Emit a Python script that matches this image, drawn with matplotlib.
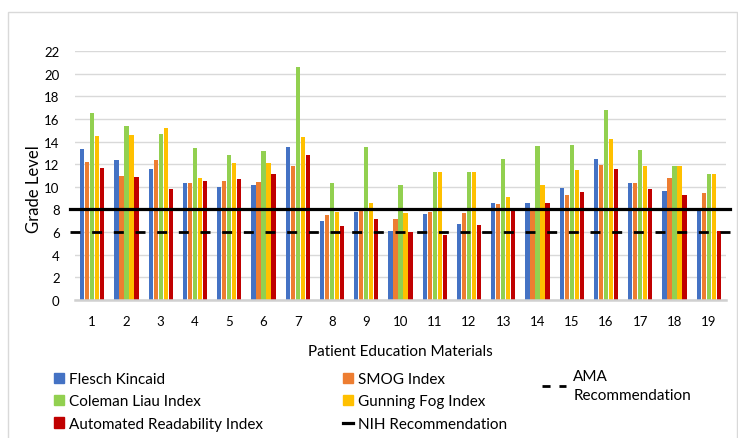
import matplotlib
matplotlib.use("Agg")
import matplotlib.pyplot as plt
import numpy as np
from matplotlib.patches import Patch, Rectangle
from matplotlib.lines import Line2D

plt.rcParams['font.family'] = ['Lato', 'DejaVu Sans']

materials = [str(i) for i in range(1, 20)]
flesch_kincaid = [13.3, 12.4, 11.6, 10.3, 10.0, 10.2, 13.5, 7.0, 7.8, 6.1, 7.6, 6.7, 8.6, 8.6, 9.9, 12.5, 10.3, 9.6, 8.0]
smog_index = [12.2, 11.0, 12.4, 10.3, 10.5, 10.4, 11.8, 7.5, 7.95, 7.2, 7.8, 7.7, 8.5, 7.9, 9.3, 11.9, 10.3, 10.8, 9.45]
coleman_liau = [16.5, 15.35, 14.7, 13.4, 12.8, 13.2, 20.6, 10.35, 13.5, 10.2, 11.3, 11.3, 12.5, 13.6, 13.7, 16.8, 13.25, 11.8, 11.15]
gunning_fog = [14.45, 14.6, 15.2, 10.8, 12.1, 12.1, 14.4, 7.8, 8.6, 7.7, 11.3, 11.3, 9.1, 10.2, 11.5, 14.25, 11.8, 11.8, 11.15]
automated_readability = [11.7, 10.85, 9.8, 10.55, 10.7, 11.15, 12.8, 6.55, 7.15, 6.0, 5.75, 6.6, 8.0, 8.6, 9.5, 11.6, 9.8, 9.3, 6.1]
nih_recommendation = 8
ama_recommendation = 6
y_ticks = list(range(0, 23, 2))

series = [
    ("Flesch Kincaid", flesch_kincaid, "#4472C4"),
    ("SMOG Index", smog_index, "#ED7D31"),
    ("Coleman Liau Index", coleman_liau, "#92D050"),
    ("Gunning Fog Index", gunning_fog, "#FFC000"),
    ("Automated Readability Index", automated_readability, "#C00000"),
]

fig = plt.figure(figsize=(7.38, 4.39), dpi=100)
fig.patches.append(Rectangle((8/738, -0.01), (737-8)/738, 1 - 13/439 + 0.01,
                             transform=fig.transFigure, fill=False,
                             edgecolor="#d9d9d9", linewidth=1.0))
ax = fig.add_axes([75/738, 1 - 301/439, (726-75)/738, (301-52)/439])

x = np.arange(len(materials))
bw = 0.146
for i, (name, vals, col) in enumerate(series):
    ax.bar(x + (i - 2) * bw, vals, width=bw * 0.86, color=col, zorder=2,
           edgecolor="none")

ax.axhline(nih_recommendation, xmin=-0.008, xmax=1.006, color="black", lw=2.3,
           zorder=3, clip_on=False)
ax.axhline(ama_recommendation, xmin=-0.008, xmax=1.006, color="black", lw=2.0,
           zorder=3, clip_on=False, dashes=(3.6, 4.2))

ax.set_xlim(-0.5, len(materials) - 0.5)
ax.set_ylim(0, 22)
ax.set_yticks(y_ticks)
ax.set_xticks(x)
ax.set_xticklabels(materials)
ax.yaxis.grid(True, color="#d9d9d9", lw=1.0, zorder=0)
ax.set_axisbelow(True)
for s in ["top", "right", "left"]:
    ax.spines[s].set_visible(False)
ax.spines["bottom"].set_color("#d0d0d0")
ax.spines["bottom"].set_linewidth(1.8)
ax.tick_params(axis="both", length=0, labelsize=9.5, colors="#000000")
ax.tick_params(axis="y", pad=11)
ax.tick_params(axis="x", pad=11)
ax.set_ylabel("Grade Level", fontsize=12)
ax.yaxis.set_label_coords(-0.05, 0.45)
ax.set_xlabel("Patient Education Materials", fontsize=11, labelpad=12)

fs = 11
common = dict(frameon=False, fontsize=fs, handlelength=0.65, handleheight=0.65,
              handletextpad=0.33, labelspacing=0.55, borderaxespad=0, borderpad=0)
h1 = [Patch(color=series[i][2], label=series[i][0]) for i in (0, 2, 4)]
leg1 = fig.legend(handles=h1, loc="upper left", bbox_to_anchor=(54/738, 1 - 373/439), **common)
h2 = [Patch(color=series[i][2], label=series[i][0]) for i in (1, 3)]
h2.append(Line2D([], [], color="black", lw=2.3, label="NIH Recommendation"))
leg2 = fig.legend(handles=h2, loc="upper left", bbox_to_anchor=(343/738, 1 - 373/439), **common)
h3 = [Line2D([], [], color="black", lw=2.0, dashes=(2.9, 3.2), label="AMA\nRecommendation")]
c3 = dict(common)
c3["handlelength"] = 1.6
c3["handletextpad"] = 0.45
leg3 = fig.legend(handles=h3, loc="upper left", bbox_to_anchor=(542/738, 1 - 370/439), **c3)
for t in leg3.get_texts():
    t.set_linespacing(1.45)

fig.savefig("out.png", dpi=100)
